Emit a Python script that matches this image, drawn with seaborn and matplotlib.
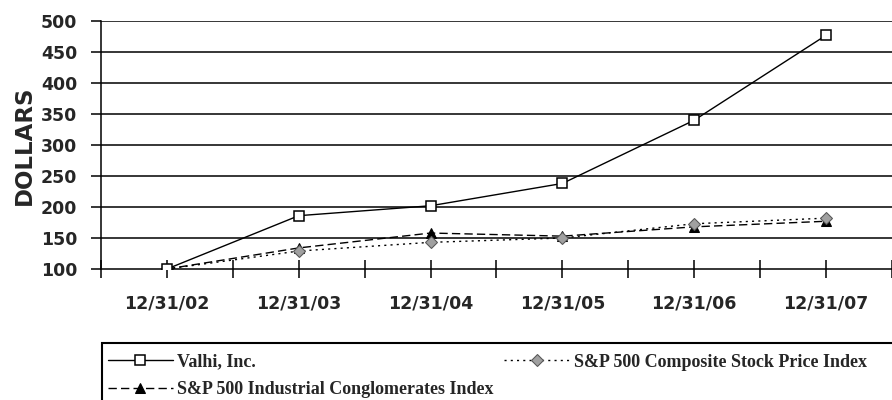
import numpy as np
import pandas as pd
import matplotlib
matplotlib.use("Agg")
import matplotlib.pyplot as plt
from matplotlib.patches import Rectangle
import seaborn as sns

sns.set_style("white")
plt.rcParams["font.family"] = ["DejaVu Sans"]

# data
dates = ["12/31/02", "12/31/03", "12/31/04", "12/31/05", "12/31/06", "12/31/07"]
valhi = [100, 186, 202, 238, 340, 477]
sp500 = [100, 129, 143, 150, 173, 182]
industrials = [100, 134, 158, 153, 168, 177]

x = np.arange(len(dates))

fig = plt.figure(figsize=(8.92, 4.0), dpi=100)
ax = fig.add_axes([101 / 892, 1 - 269 / 400, 1 - 101 / 892, 248 / 400])

# horizontal grid lines
for v in range(150, 501, 50):
    ax.axhline(v, color="black", lw=1.1, zorder=0)

sns.lineplot(x=x, y=valhi, ax=ax, color="black", lw=1.0, marker="s",
             markersize=7, markerfacecolor="white", markeredgecolor="black",
             markeredgewidth=1.1, label="Valhi, Inc.", zorder=3)
sns.lineplot(x=x, y=industrials, ax=ax, color="black", lw=1.0, linestyle=(0, (6, 3)),
             marker="^", markersize=7, markerfacecolor="black", markeredgecolor="black",
             label="S&P 500 Industrial Conglomerates Index", zorder=2)
sns.lineplot(x=x, y=sp500, ax=ax, color="black", lw=1.0, linestyle=(0, (1.5, 3)),
             marker="D", markersize=6, markerfacecolor="#a0a0a0", markeredgecolor="#555555",
             label="S&P 500 Composite Stock Price Index", zorder=2)

ax.set_xlim(-0.5, 5.43)
ax.set_ylim(100, 500)
ax.set_yticks(range(100, 501, 50))
ax.set_xticks(x)
ax.set_xticks(np.arange(-0.5, 5.6, 1.0), minor=True)
ax.set_xticklabels(dates)

for s in ["top", "right"]:
    ax.spines[s].set_visible(False)
ax.spines["left"].set_color("black")
ax.spines["left"].set_linewidth(1.1)
ax.spines["bottom"].set_color("black")
ax.spines["bottom"].set_linewidth(1.1)

ax.tick_params(axis="x", which="both", bottom=True, direction="inout", length=13,
               width=1.1, color="black", pad=12, labelsize=12.5)
ax.tick_params(axis="y", left=True, direction="out", length=7, width=1.1, color="black",
               pad=10, labelsize=12.5)
for lab in ax.get_xticklabels() + ax.get_yticklabels():
    lab.set_fontweight("bold")

ax.set_ylabel("DOLLARS", fontsize=16.5, fontweight="bold", labelpad=4)

# legend: two columns, Valhi + Industrials on the left, Composite on the right
handles, labels = ax.get_legend_handles_labels()
leg = ax.legend(handles, labels, ncol=2, loc="upper left",
                bbox_to_anchor=(104 / 892, 1 - 350 / 400), bbox_transform=fig.transFigure,
                frameon=False,
                prop={"family": "Liberation Serif", "weight": "bold", "size": 13},
                handlelength=3.6, handletextpad=0.25, columnspacing=0.6,
                borderpad=0.2, labelspacing=0.6, borderaxespad=0)

# legend box runs off the right and bottom edge, as in the reference
fig.patches.append(Rectangle((102 / 892, -0.1), 1.0, 0.1 + 1 - 343 / 400,
                             transform=fig.transFigure, fill=False,
                             edgecolor="black", lw=1.5))

fig.savefig("out.png", dpi=100)
